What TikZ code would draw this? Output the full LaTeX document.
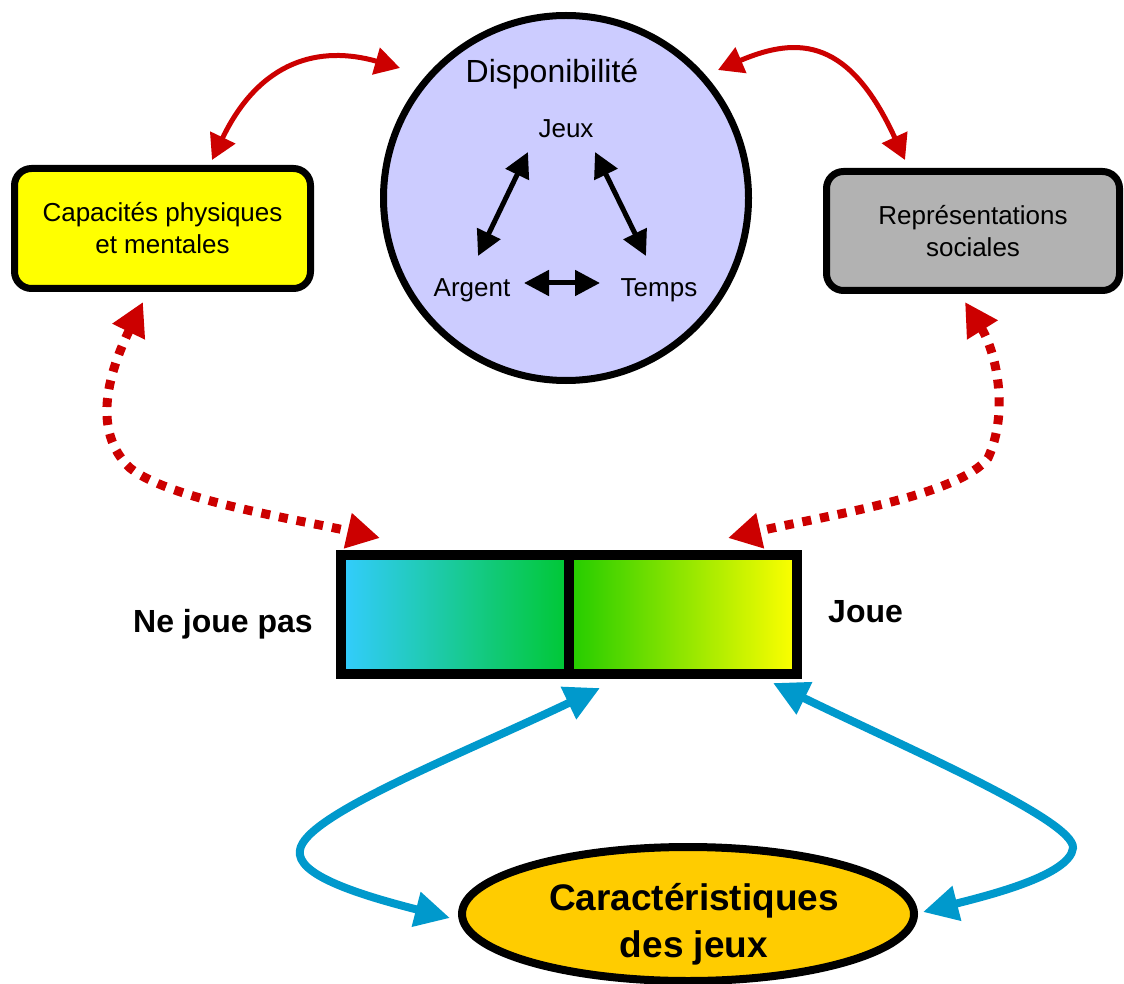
\documentclass[tikz,border=0pt]{standalone}
\usepackage{fontspec}
\setmainfont{Liberation Sans}
\usetikzlibrary{arrows.meta,shapes.geometric}
\definecolor{dispoc}{HTML}{CCCCFF}
\definecolor{capy}{HTML}{FFFF00}
\definecolor{repg}{HTML}{B2B2B2}
\definecolor{redc}{HTML}{CC0000}
\definecolor{bluec}{HTML}{0099CC}
\definecolor{caro}{HTML}{FFCC00}
\definecolor{njl}{HTML}{33CCFF}
\definecolor{njr}{HTML}{00C833}
\definecolor{jol}{HTML}{22CC00}
\definecolor{jor}{HTML}{FFFF00}
\begin{document}
\begin{tikzpicture}[x=1pt,y=-1pt,
  txt/.style={inner sep=0pt, font=\fontsize{26}{32}\selectfont},
  boxst/.style={rectangle, rounded corners=17pt, draw, line width=7pt, align=center, inner sep=0pt, font=\fontsize{26}{32}\selectfont},
  barst/.style={rectangle, draw, line width=10pt, minimum width=228pt, minimum height=119pt, inner sep=0pt},
  lbl/.style={inner sep=0pt, font=\bfseries\fontsize{32}{38}\selectfont},
  redsolid/.style={draw=redc, line width=5pt, >={Triangle[length=25pt,width=27pt]}, <->},
  reddot/.style={draw=redc, line width=9pt, dash pattern=on 9pt off 9pt, >={Triangle[length=33pt,width=34pt]}, <->},
  bluearr/.style={draw=bluec, line width=8pt, >={Triangle[length=35pt,width=34pt]}, <->},
  blkarr/.style={draw=black, line width=5pt, >={Triangle[length=25pt,width=25pt]}, <->}
]
\fill[white] (0,0) rectangle (1124,984);
\useasboundingbox (0,0) rectangle (1124,984);

% Disponibilite circle
\node[circle, draw, line width=7pt, fill=dispoc, minimum size=365pt, inner sep=0pt] (dispo) at (566,198) {};
\node[txt, anchor=base, font=\fontsize{32}{38}\selectfont] (dtitle) at (552,83) {Disponibilité};
\node[txt, anchor=base] (jeux) at (566,138) {Jeux};
\node[txt, anchor=base] (argent) at (472,297) {Argent};
\node[txt, anchor=base] (temps) at (659,297) {Temps};

% side boxes
\node[boxst, fill=capy, minimum width=296pt, minimum height=120pt] (cap) at (162.5,228.5) {Capacités physiques\\et mentales};
\node[boxst, fill=repg, minimum width=293pt, minimum height=119pt] (rep) at (973,231) {Représentations\\sociales};

% bar
\node[barst, left color=njl, right color=njr] (njbar) at (455,614.5) {};
\node[barst, left color=jol, right color=jor] (jbar) at (683,614.5) {};
\node[lbl, anchor=base east] (nejoue) at (313,632) {Ne joue pas};
\node[lbl, anchor=base west] (joue) at (828,622) {Joue};

% ellipse
\node[ellipse, draw, line width=8pt, fill=caro, minimum width=452pt, minimum height=134pt, inner sep=0pt] (car) at (688,914) {};
\node[inner sep=0pt, align=center, font=\bfseries\fontsize{37}{47}\selectfont] (cartxt) at (694,924) {Caractéristiques\\des jeux};

% connector end points
\coordinate (capT) at (212,160);
\coordinate (dispoL) at (400,68);
\coordinate (dispoR) at (718,70);
\coordinate (repT) at (905,160);
\coordinate (capB) at (143,302);
\coordinate (njT) at (380,538);
\coordinate (repB) at (965,302);
\coordinate (jT) at (728,538);
\coordinate (barBl) at (600,688);
\coordinate (carL) at (450,918);
\coordinate (jB) at (773,683);
\coordinate (carR) at (923,912);
\coordinate (ja1) at (528,152);
\coordinate (ja2) at (478,256);
\coordinate (jt1) at (595,152);
\coordinate (jt2) at (646,256);
\coordinate (at1) at (524,283);
\coordinate (at2) at (600,283);

% inner arrows
\draw[blkarr] (ja1) -- (ja2);
\draw[blkarr] (jt1) -- (jt2);
\draw[blkarr] (at1) -- (at2);

% red solid
\draw[redsolid] (capT) .. controls (260,60) and (320,45) .. (dispoL);
\draw[redsolid] (dispoR) .. controls (800,35) and (850,40) .. (repT);

% red dotted
\draw[reddot] (capB) .. controls (110,370) and (90,430) .. (130,468) .. controls (170,500) and (300,520) .. (njT);
\draw[reddot] (repB) .. controls (995,350) and (1010,410) .. (988,458) .. controls (960,495) and (830,515) .. (jT);

% blue
\draw[bluearr] (carL) .. controls (360,895) and (295,875) .. (300,850) .. controls (305,815) and (460,755) .. (barBl);
\draw[bluearr] (jB) .. controls (900,745) and (1075,820) .. (1073,848) .. controls (1070,875) and (990,895) .. (carR);
\end{tikzpicture}
\end{document}
